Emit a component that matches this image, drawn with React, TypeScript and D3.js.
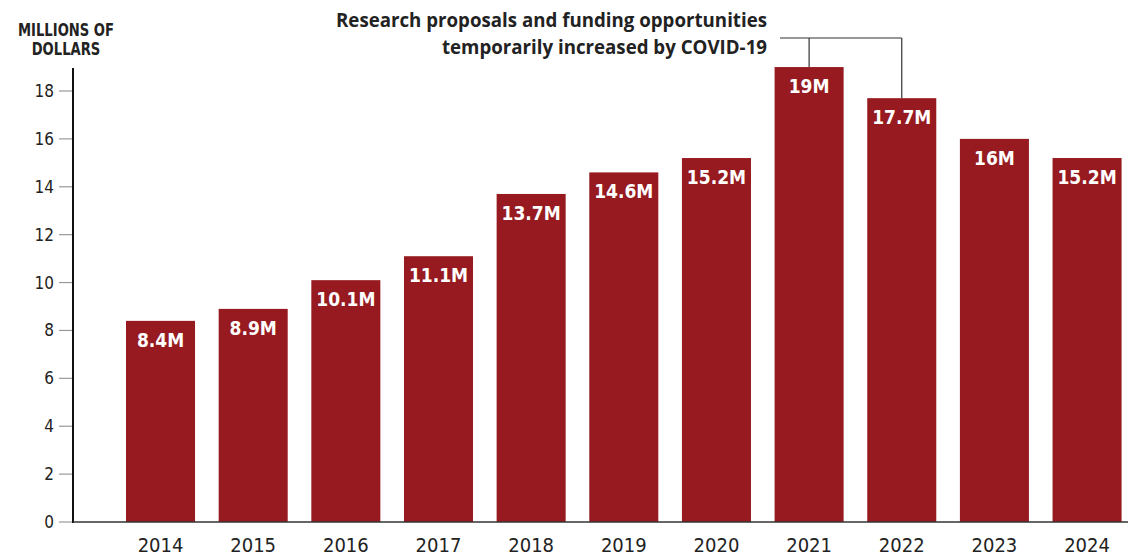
import React from "react";
import * as d3 from "d3";

const years = ["2014","2015","2016","2017","2018","2019","2020","2021","2022","2023","2024"];
const values = [8.4, 8.9, 10.1, 11.1, 13.7, 14.6, 15.2, 19, 17.7, 16, 15.2];
const valueLabels = ["8.4M","8.9M","10.1M","11.1M","13.7M","14.6M","15.2M","19M","17.7M","16M","15.2M"];
const yTicks = [0, 2, 4, 6, 8, 10, 12, 14, 16, 18];
const axisTitle = ["MILLIONS OF", "DOLLARS"];
const annotationLines = ["Research proposals and funding opportunities", "temporarily increased by COVID-19"];
const annotatedYears = ["2021", "2022"];

const W = 1128, H = 557;
const COND = "'DejaVu Sans Condensed', 'DejaVu Sans', sans-serif";
const RED = "#961a1f";

export default function App() {
  const x = d3.scaleBand<string>().domain(years).range([114.2, 1133.4]).paddingInner(0.255).paddingOuter(0.1275);
  const y = d3.scaleLinear().domain([0, 18]).range([522, 91]);
  const axisX = 73;
  const bracketY = 38;
  return (
    <div style={{ position: "absolute", left: 0, top: 0 }}>
      <svg width={W} height={H} style={{ display: "block", background: "#fff" }}>
        {/* axis title */}
        {axisTitle.map((t, i) => (
          <text key={t} transform={`translate(66,${36 + i * 19}) scale(0.86,1)`} textAnchor="middle"
            fontFamily={COND} fontWeight={700} fontSize={17} fill="#222">{t}</text>
        ))}
        {/* bars */}
        {years.map((yr, i) => (
          <g key={yr}>
            <rect x={x(yr)} y={y(values[i])} width={x.bandwidth()} height={y(0) - y(values[i])} fill={RED} />
            <text x={(x(yr) as number) + x.bandwidth() / 2} y={y(values[i]) + 26} textAnchor="middle"
              fontFamily={COND} fontWeight={700} fontSize={19} fill="#fff">{valueLabels[i]}</text>
            <text x={(x(yr) as number) + x.bandwidth() / 2} y={552} textAnchor="middle"
              fontFamily={COND} fontSize={20} fill="#222">{yr}</text>
          </g>
        ))}
        {/* y ticks */}
        {yTicks.map((t) => (
          <g key={t}>
            <line x1={59} x2={axisX} y1={y(t)} y2={y(t)} stroke="#999" strokeWidth={1.2} />
            <text x={54} y={y(t) + 6} textAnchor="end" fontFamily={COND} fontSize={17} fill="#222">{t}</text>
          </g>
        ))}
        {/* axes */}
        <line x1={axisX} x2={axisX} y1={68} y2={y(0) + 1} stroke="#111" strokeWidth={2} />
        <line x1={axisX} x2={W} y1={y(0)} y2={y(0)} stroke="#333" strokeWidth={1.5} />
        {/* annotation */}
        {annotationLines.map((t, i) => (
          <text key={t} x={767} y={27 + i * 27} textAnchor="end" fontFamily="'Open Sans', sans-serif"
            fontWeight={700} fontSize={18.7} fill="#222">{t}</text>
        ))}
        {(() => {
          const i0 = years.indexOf(annotatedYears[0]);
          const i1 = years.indexOf(annotatedYears[1]);
          const c0 = (x(annotatedYears[0]) as number) + x.bandwidth() / 2;
          const c1 = (x(annotatedYears[1]) as number) + x.bandwidth() / 2;
          return (
            <g stroke="#333" strokeWidth={1.2} fill="none">
              <line x1={780} x2={c1} y1={bracketY} y2={bracketY} />
              <line x1={c0} x2={c0} y1={bracketY} y2={y(values[i0])} />
              <line x1={c1} x2={c1} y1={bracketY} y2={y(values[i1])} />
            </g>
          );
        })()}
      </svg>
    </div>
  );
}
